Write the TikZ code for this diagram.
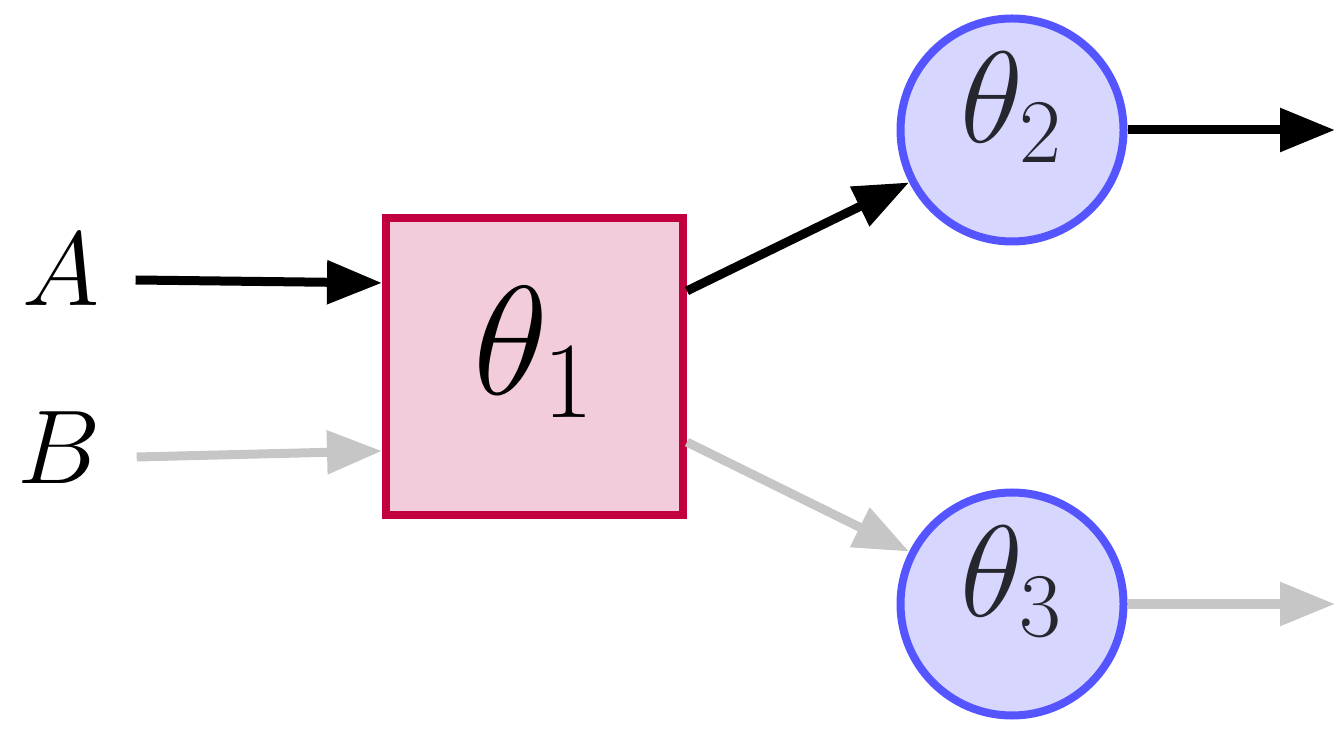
\documentclass[tikz,border=0pt]{standalone}
\usepackage{fix-cm}
\usepackage{tikz}
\usetikzlibrary{arrows.meta,calc}
\definecolor{nwcrimson}{HTML}{C2003F}
\definecolor{nwblush}  {HTML}{F2CCDA}
\definecolor{nwblue}   {HTML}{5555FF}
\definecolor{nwlilac}  {HTML}{D6D6FF}
\definecolor{nwink}    {HTML}{26262E}
\definecolor{nwfog}    {HTML}{C6C6C6}
\tikzset{
  nwbox/.style={draw=nwcrimson, fill=nwblush, line width=1.6pt, minimum size=59.4pt,
                inner sep=0pt, text depth=10.3pt, font=\fontsize{31}{36}\selectfont},
  nwcirc/.style={circle, draw=nwblue, fill=nwlilac, line width=1.6pt, minimum size=44.6pt,
                 inner sep=0pt, text=nwink, text depth=12.9pt, font=\fontsize{26}{30}\selectfont},
  nwinput/.style={inner ysep=0pt, inner xsep=7pt, font=\fontsize{21}{25}\selectfont},
  nwedge/.style={-{Triangle[length=11pt,width=8.4pt]}, line width=1.8pt},
  nwidle/.style={nwedge, draw=nwfog},
}
\begin{document}
\begin{tikzpicture}[x=0.2pt,y=-0.2pt]
  \useasboundingbox (0,0) rectangle (1342,729);
  \node[nwbox] (t1) at (534.5,366.5) {$\theta_1$};
  \node[nwcirc] (t2) at (1012,130) {$\theta_2$};
  \node[nwcirc] (t3) at (1012,604) {$\theta_3$};
  \node[nwinput] (a) at (61,270) {$A$};
  \node[nwinput] (b) at (59,448) {$B$};
  \coordinate (o2) at (1335,130);
  \coordinate (o3) at (1335,604);
  % active route
  \draw[nwedge] ([yshift=-2pt]a.east) -- ($(t1.north west)!0.226!(t1.south west)$);
  \draw[nwedge] ($(t1.north east)!0.252!(t1.south east)$) -- (t2.207);
  \draw[nwedge] (t2.east) -- (o2);
  % idle route
  \draw[nwidle] ([yshift=-1.8pt]b.east) -- ($(t1.north west)!0.777!(t1.south west)$);
  \draw[nwidle] ($(t1.north east)!0.748!(t1.south east)$) -- (t3.153);
  \draw[nwidle] (t3.east) -- (o3);
\end{tikzpicture}
\end{document}
